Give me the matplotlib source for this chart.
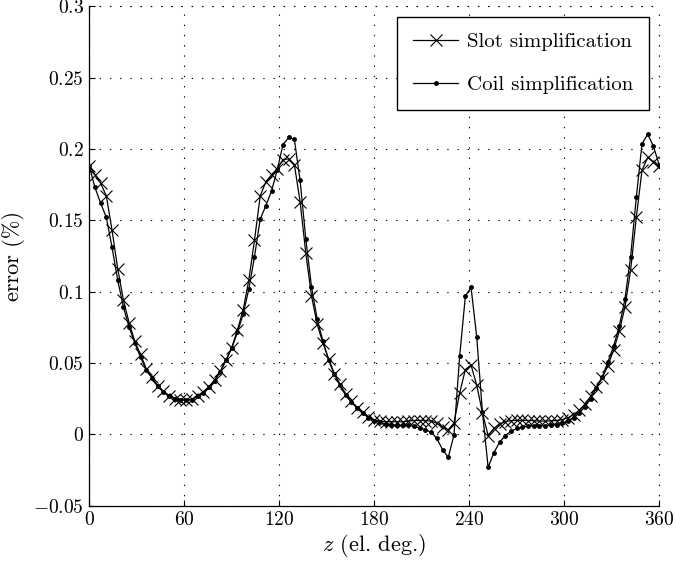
import numpy as np
import matplotlib
matplotlib.use("Agg")
import matplotlib.pyplot as plt
from matplotlib.ticker import FuncFormatter

plt.rcParams['font.family'] = ['cmr10', 'DejaVu Serif']
plt.rcParams['mathtext.fontset'] = 'cm'
plt.rcParams['axes.unicode_minus'] = True

# angular positions, 3.6 el. deg. apart
z = np.linspace(0, 360, 101)

slot_err = [
    0.188, 0.182, 0.176, 0.167, 0.143, 0.116, 0.094, 0.078, 0.065, 0.056,
    0.046, 0.040, 0.034, 0.030, 0.027, 0.025, 0.0243, 0.024, 0.0245, 0.027,
    0.0295, 0.0334, 0.038, 0.044, 0.052, 0.0605, 0.073, 0.087, 0.108, 0.136,
    0.167, 0.177, 0.182, 0.186, 0.1925, 0.193, 0.189, 0.163, 0.127, 0.097,
    0.077, 0.064, 0.053, 0.0425, 0.035, 0.0284, 0.023, 0.0185, 0.0153, 0.0124,
    0.0101, 0.0092, 0.0087, 0.0087, 0.0087, 0.0087, 0.0092, 0.0096, 0.0096, 0.0096,
    0.0092, 0.0077, 0.0049, 0.0031, 0.0077, 0.0289, 0.0453, 0.0484, 0.0343, 0.0150,
    -0.0010, 0.0040, 0.0070, 0.0088, 0.0095, 0.0097, 0.0097, 0.0096, 0.0094, 0.0092,
    0.0092, 0.0093, 0.0096, 0.0102, 0.0115, 0.0138, 0.0168, 0.0212, 0.0265, 0.0333,
    0.0394, 0.0481, 0.0587, 0.072, 0.089, 0.115, 0.152, 0.185, 0.194, 0.191,
    0.188,
]

coil_err = [
    0.188, 0.173, 0.162, 0.152, 0.131, 0.108, 0.089, 0.075, 0.064, 0.054,
    0.045, 0.0395, 0.0335, 0.0295, 0.0265, 0.0248, 0.0240, 0.0238, 0.0242, 0.0265,
    0.029, 0.033, 0.0375, 0.0437, 0.0519, 0.0603, 0.0713, 0.084, 0.1016, 0.1245,
    0.1508, 0.1602, 0.1707, 0.1855, 0.203, 0.208, 0.2066, 0.178, 0.137, 0.1034,
    0.0807, 0.0655, 0.0519, 0.042, 0.0343, 0.0272, 0.0225, 0.0185, 0.0148, 0.0115,
    0.0096, 0.0082, 0.0073, 0.0066, 0.0063, 0.0061, 0.0061, 0.0054, 0.0045, 0.0031,
    0.0014, -0.0030, -0.0108, -0.0162, -0.0007, 0.0545, 0.0967, 0.1030, 0.0680, 0.0155,
    -0.0232, -0.0130, -0.0058, -0.0010, 0.0020, 0.0040, 0.0050, 0.0055, 0.0058, 0.0060,
    0.0060, 0.0062, 0.0066, 0.0075, 0.0090, 0.0115, 0.0148, 0.0192, 0.0250, 0.0325,
    0.0399, 0.0505, 0.0615, 0.0756, 0.0946, 0.1244, 0.166, 0.2035, 0.2103, 0.2019,
    0.189,
]

xticks = [0, 60, 120, 180, 240, 300, 360]
yticks = [-0.05, 0, 0.05, 0.1, 0.15, 0.2, 0.25, 0.3]

fig = plt.figure(figsize=(6.76, 5.68), dpi=100)
ax = fig.add_axes([0.132, 0.110, 0.843, 0.879])

ax.plot(z, slot_err, color='k', lw=0.9, marker='x', ms=8, mew=0.8,
        label='Slot simplification')
ax.plot(z, coil_err, color='k', lw=0.9, marker='.', ms=5,
        label='Coil simplification')

ax.set_xlim(0, 360)
ax.set_ylim(-0.05, 0.3)
ax.set_xticks(xticks)
ax.set_yticks(yticks)

def fmt(v, pos):
    return '$%g$' % v

ax.xaxis.set_major_formatter(FuncFormatter(fmt))
ax.yaxis.set_major_formatter(FuncFormatter(fmt))
ax.tick_params(direction='in', length=4, width=0.8, labelsize=14, pad=4,
               top=False, right=False)

ax.spines['top'].set_visible(False)
ax.spines['right'].set_visible(False)
ax.spines['left'].set_linewidth(0.9)
ax.spines['bottom'].set_linewidth(0.9)

dots = (0, (1.2, 8))
ax.grid(True, color='k', lw=0.8, linestyle=dots)
# dotted frame on top and right like the gridlines
ax.axhline(0.3, color='k', lw=0.8, linestyle=dots, clip_on=False)
ax.axvline(360, color='k', lw=0.8, linestyle=dots, clip_on=False)

ax.set_xlabel('$z$ (el. deg.)', fontsize=16, labelpad=2)
ax.set_ylabel('error (%)', fontsize=16, labelpad=6)

leg = ax.legend(loc='upper right', fontsize=15, frameon=True, fancybox=False,
                edgecolor='k', framealpha=1, handlelength=2.2, handletextpad=0.4,
                borderpad=0.75, labelspacing=1.2, borderaxespad=0.5)
leg.get_frame().set_linewidth(1.0)

fig.savefig('out.png', dpi=100)
